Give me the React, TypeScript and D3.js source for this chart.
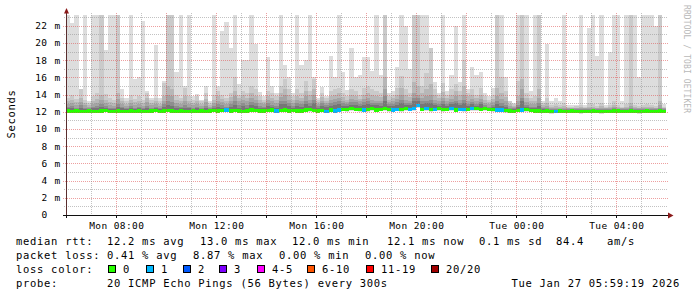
import React from 'react';
import * as d3 from 'd3';

const W = 697;
const H = 297;
const START = Date.UTC(2026, 0, 26, 5, 59, 19);
const END = Date.UTC(2026, 0, 27, 5, 59, 19);
const STEP_MS = 600000; // one column per 10 minutes

// highest ping (top of the lightest smoke), ms; values above the axis top are clipped
const smokeMax = [
  24, 22.3, 24, 14.6, 24, 13.3, 24, 24, 24, 19.2, 24, 24,
  24, 14.6, 13.6, 24, 15.8, 16.1, 22.6, 14.4, 13.6, 19.8, 13.6, 15.6,
  24, 24, 16.6, 24, 15.0, 24, 13.8, 14.1, 13.4, 15.0, 13.2, 24,
  15.0, 21.4, 22.5, 19.4, 24, 15.2, 18.0, 18.0, 24, 19.9, 14.3, 13.8,
  18.4, 15.0, 14.2, 24, 17.5, 16.1, 14.2, 24, 17.5, 18.0, 24, 16.1,
  13.6, 14.9, 13.8, 18.5, 16.1, 24, 16.6, 14.5, 19.4, 16.1, 16.3, 18.4,
  18.4, 16.8, 24, 16.3, 24, 14.2, 14.4, 17.2, 24, 22.0, 17.0, 24,
  24, 24, 24, 19.4, 15.5, 14.2, 24, 14.4, 16.3, 22.0, 15.5, 24,
  14.6, 17.2, 16.3, 16.6, 14.2, 13.8, 14.8, 24, 24, 16.1, 13.3, 13.0,
  24, 24, 24, 14.4, 24, 24, 13.3, 19.9, 13.2, 13.6, 13.3, 24,
  12.8, 12.8, 12.8, 24, 12.8, 21.8, 24, 18.5, 24, 12.8, 19.0, 24,
  24, 13.2, 24, 24, 24, 16.1, 24, 24, 24, 22.0, 24, 12.9,
];

// second highest ping
const smoke2 = [
  13.6, 14.0, 13.5, 14.6, 13.4, 13.0, 13.8, 14.2, 24, 14.1, 13.6, 13.4,
  24, 13.6, 13.2, 14.0, 13.5, 13.8, 13.4, 14.2, 13.4, 13.6, 13.2, 15.4,
  24, 24, 14.0, 13.6, 14.8, 13.8, 13.4, 13.8, 13.2, 14.2, 13.0, 14.0,
  14.4, 14.0, 13.6, 14.2, 16.0, 14.0, 14.4, 14.2, 15.0, 14.6, 13.8, 13.4,
  14.4, 14.2, 13.8, 15.0, 15.8, 14.6, 13.8, 14.6, 14.2, 15.6, 14.4, 15.8,
  13.4, 14.2, 13.6, 14.4, 14.6, 14.8, 14.2, 13.8, 14.6, 14.4, 14.0, 14.8,
  15.0, 14.6, 14.4, 14.2, 24, 13.8, 14.0, 14.8, 16.2, 14.6, 14.2, 24,
  24, 15.0, 16.5, 19.4, 14.6, 14.0, 15.4, 14.0, 14.6, 15.2, 14.4, 18.0,
  14.2, 14.6, 14.0, 14.8, 13.8, 13.4, 14.0, 24, 16.0, 14.4, 13.2, 12.9,
  15.6, 24, 14.2, 13.6, 13.8, 24, 13.0, 13.6, 12.8, 12.9, 12.8, 13.0,
  12.6, 12.6, 12.7, 12.8, 12.6, 13.0, 12.9, 12.7, 13.0, 12.6, 12.8, 13.2,
  12.8, 12.6, 12.9, 24, 12.8, 12.7, 12.8, 12.9, 12.8, 12.7, 24, 12.6,
];

const smoke3 = [
  13.2, 13.4, 13.1, 13.6, 13.0, 12.8, 13.3, 13.5, 14.0, 13.4, 13.1, 13.0,
  14.2, 13.2, 12.9, 13.4, 13.1, 13.3, 13.0, 13.6, 13.0, 13.2, 12.9, 13.8,
  15.0, 14.6, 13.4, 13.2, 13.8, 13.3, 13.0, 13.2, 12.9, 13.5, 12.8, 13.4,
  13.8, 13.5, 13.2, 13.7, 14.4, 13.6, 13.9, 13.6, 14.2, 13.8, 13.4, 13.1,
  13.8, 13.6, 13.4, 14.2, 14.6, 13.9, 13.4, 13.8, 13.6, 14.4, 13.9, 14.6,
  13.1, 13.7, 13.3, 13.8, 14.0, 14.2, 13.7, 13.4, 13.9, 13.8, 13.5, 14.0,
  14.2, 13.9, 13.8, 13.7, 16.0, 13.4, 13.6, 14.0, 14.8, 13.9, 13.7, 15.5,
  15.0, 14.2, 14.6, 15.2, 13.9, 13.6, 14.3, 13.6, 14.0, 14.4, 13.9, 15.0,
  13.8, 14.0, 13.6, 14.0, 13.4, 13.1, 13.5, 14.8, 14.2, 13.7, 12.9, 12.7,
  13.8, 15.8, 13.6, 13.2, 13.3, 14.6, 12.8, 13.0, 12.6, 12.7, 12.6, 12.7,
  12.5, 12.5, 12.5, 12.6, 12.5, 12.6, 12.6, 12.5, 12.7, 12.5, 12.6, 12.8,
  12.6, 12.5, 12.6, 13.0, 12.6, 12.5, 12.6, 12.6, 12.6, 12.5, 13.2, 12.5,
];

const smoke4 = [
  12.9, 13.0, 12.8, 13.1, 12.8, 12.6, 12.9, 13.0, 13.4, 13.0, 12.8, 12.7,
  13.5, 12.9, 12.7, 13.0, 12.8, 12.9, 12.7, 13.1, 12.8, 12.9, 12.7, 13.3,
  14.0, 13.8, 13.0, 12.9, 13.2, 12.9, 12.8, 12.9, 12.7, 13.1, 12.6, 13.0,
  13.3, 13.1, 12.9, 13.3, 13.8, 13.2, 13.4, 13.2, 13.6, 13.4, 13.0, 12.9,
  13.4, 13.2, 13.0, 13.7, 13.9, 13.4, 13.0, 13.4, 13.2, 13.8, 13.4, 13.9,
  12.9, 13.3, 13.0, 13.4, 13.5, 13.6, 13.3, 13.1, 13.5, 13.4, 13.2, 13.5,
  13.6, 13.4, 13.3, 13.3, 14.6, 13.1, 13.2, 13.5, 13.9, 13.4, 13.3, 14.2,
  14.0, 13.6, 13.8, 14.0, 13.4, 13.2, 13.6, 13.2, 13.5, 13.8, 13.4, 14.0,
  13.3, 13.5, 13.2, 13.5, 13.0, 12.9, 13.1, 13.8, 13.5, 13.2, 12.7, 12.6,
  13.2, 14.6, 13.1, 12.9, 12.9, 13.6, 12.6, 12.7, 12.5, 12.5, 12.5, 12.5,
  12.4, 12.4, 12.4, 12.5, 12.4, 12.5, 12.5, 12.4, 12.5, 12.4, 12.5, 12.6,
  12.5, 12.4, 12.5, 12.7, 12.5, 12.4, 12.5, 12.5, 12.5, 12.4, 12.8, 12.4,
];

const smoke5 = [
  12.6, 12.7, 12.5, 12.8, 12.5, 12.4, 12.6, 12.7, 12.9, 12.7, 12.5, 12.5,
  12.9, 12.6, 12.5, 12.7, 12.5, 12.6, 12.5, 12.7, 12.5, 12.6, 12.5, 12.9,
  13.3, 13.1, 12.7, 12.6, 12.8, 12.6, 12.5, 12.6, 12.5, 12.7, 12.4, 12.7,
  12.9, 12.8, 12.6, 12.9, 13.2, 12.8, 13.0, 12.8, 13.1, 13.0, 12.7, 12.6,
  13.0, 12.8, 12.7, 13.2, 13.3, 13.0, 12.7, 13.0, 12.9, 13.3, 13.0, 13.4,
  12.7, 13.0, 12.8, 13.0, 13.1, 13.2, 13.0, 12.9, 13.1, 13.1, 12.9, 13.1,
  13.2, 13.0, 13.0, 13.0, 13.8, 12.9, 12.9, 13.1, 13.4, 13.0, 13.0, 13.6,
  13.6, 13.2, 13.3, 13.4, 13.0, 12.9, 13.2, 12.9, 13.1, 13.3, 13.0, 13.4,
  12.9, 13.1, 12.9, 13.1, 12.8, 12.6, 12.8, 13.2, 13.0, 12.8, 12.5, 12.4,
  12.8, 13.6, 12.8, 12.6, 12.6, 13.0, 12.4, 12.4, 12.35, 12.35, 12.35, 12.35,
  12.3, 12.3, 12.3, 12.35, 12.3, 12.35, 12.35, 12.3, 12.35, 12.3, 12.35, 12.4,
  12.35, 12.3, 12.35, 12.5, 12.35, 12.3, 12.35, 12.35, 12.35, 12.3, 12.5, 12.3,
];

const smoke6 = [
  12.4, 12.45, 12.35, 12.5, 12.35, 12.3, 12.4, 12.45, 12.6, 12.45, 12.35, 12.35,
  12.6, 12.4, 12.35, 12.45, 12.35, 12.4, 12.35, 12.45, 12.35, 12.4, 12.35, 12.6,
  12.8, 12.7, 12.45, 12.4, 12.5, 12.4, 12.35, 12.4, 12.35, 12.45, 12.3, 12.45,
  12.6, 12.5, 12.4, 12.6, 12.8, 12.5, 12.7, 12.5, 12.8, 12.7, 12.5, 12.45,
  12.7, 12.55, 12.5, 12.85, 12.9, 12.7, 12.5, 12.7, 12.6, 12.9, 12.7, 13.0,
  12.5, 12.7, 12.6, 12.7, 12.8, 12.9, 12.7, 12.65, 12.8, 12.8, 12.65, 12.8,
  12.9, 12.75, 12.75, 12.7, 13.3, 12.7, 12.7, 12.8, 13.0, 12.75, 12.75, 13.2,
  13.3, 12.9, 13.0, 13.0, 12.8, 12.7, 12.9, 12.7, 12.85, 13.0, 12.8, 13.0,
  12.7, 12.85, 12.7, 12.85, 12.6, 12.45, 12.6, 12.9, 12.7, 12.6, 12.35, 12.3,
  12.6, 13.2, 12.6, 12.45, 12.45, 12.7, 12.3, 12.3, 12.25, 12.25, 12.25, 12.25,
  12.2, 12.2, 12.2, 12.25, 12.2, 12.25, 12.25, 12.2, 12.25, 12.2, 12.25, 12.3,
  12.25, 12.2, 12.25, 12.35, 12.25, 12.2, 12.25, 12.25, 12.25, 12.2, 12.35, 12.2,
];

// lowest ping (bottom of the smoke)
const smokeMin = [
  11.9, 11.85, 11.9, 11.85, 11.9, 11.9, 11.85, 11.9, 11.9, 11.95, 11.85, 11.85,
  11.9, 11.85, 11.85, 11.9, 11.9, 11.9, 11.85, 11.85, 11.9, 11.95, 11.85, 11.9,
  11.95, 11.9, 11.85, 11.9, 11.85, 11.85, 11.9, 11.85, 11.9, 11.85, 11.9, 11.95,
  11.9, 11.95, 11.95, 11.9, 11.95, 11.9, 11.85, 11.9, 11.95, 11.95, 11.9, 11.9,
  11.95, 11.95, 11.9, 11.95, 11.95, 11.9, 11.95, 11.9, 11.9, 11.95, 12.0, 11.95,
  11.9, 11.95, 11.85, 11.95, 11.9, 11.95, 12.05, 12.0, 12.1, 12.05, 12.0, 11.95,
  12.0, 12.1, 11.95, 12.05, 12.1, 12.0, 11.95, 12.05, 12.0, 12.1, 12.05, 12.1,
  12.4, 12.05, 12.1, 12.0, 12.05, 12.1, 12.0, 12.05, 12.1, 11.95, 12.05, 12.0,
  12.05, 12.1, 12.15, 12.05, 12.1, 12.05, 12.0, 11.95, 11.95, 11.9, 11.9, 11.85,
  11.95, 12.0, 12.0, 11.95, 11.9, 11.9, 11.85, 11.9, 11.8, 11.85, 11.9, 11.85,
  11.85, 11.9, 11.85, 11.8, 11.85, 11.85, 11.9, 11.85, 11.8, 11.85, 11.85, 11.9,
  11.9, 11.85, 11.85, 11.9, 11.85, 11.8, 11.85, 11.9, 11.85, 11.85, 11.9, 11.85,
];

const median = [
  12.1, 12.05, 12.1, 12.0, 12.05, 12.1, 12.0, 12.05, 12.1, 12.15, 12.05, 12.0,
  12.1, 12.05, 12.0, 12.1, 12.05, 12.1, 12.05, 12.0, 12.1, 12.15, 12.05, 12.1,
  12.15, 12.1, 12.05, 12.1, 12.0, 12.05, 12.1, 12.05, 12.1, 12.05, 12.1, 12.15,
  12.1, 12.15, 12.2, 12.1, 12.15, 12.1, 12.05, 12.1, 12.2, 12.15, 12.1, 12.1,
  12.15, 12.2, 12.1, 12.15, 12.2, 12.1, 12.15, 12.1, 12.1, 12.2, 12.25, 12.15,
  12.1, 12.15, 12.05, 12.2, 12.1, 12.2, 12.3, 12.25, 12.35, 12.3, 12.25, 12.2,
  12.25, 12.35, 12.2, 12.3, 12.4, 12.25, 12.2, 12.3, 12.25, 12.35, 12.3, 12.4,
  12.75, 12.3, 12.35, 12.25, 12.3, 12.35, 12.25, 12.3, 12.35, 12.2, 12.3, 12.25,
  12.3, 12.35, 12.4, 12.3, 12.35, 12.3, 12.25, 12.2, 12.2, 12.15, 12.1, 12.05,
  12.15, 12.2, 12.25, 12.15, 12.1, 12.1, 12.05, 12.1, 12.0, 12.05, 12.1, 12.05,
  12.05, 12.1, 12.05, 12.0, 12.05, 12.05, 12.1, 12.05, 12.0, 12.05, 12.05, 12.1,
  12.1, 12.05, 12.05, 12.1, 12.05, 12.0, 12.05, 12.1, 12.05, 12.05, 12.1, 12.05,
];

// index into lossColors for each column
const lossIndex = [
  0, 0, 0, 0, 0, 0, 0, 0, 0, 0, 0, 0,
  0, 0, 0, 0, 0, 0, 0, 0, 0, 0, 0, 0,
  0, 0, 0, 0, 0, 0, 0, 0, 0, 0, 0, 0,
  0, 0, 1, 0, 0, 0, 0, 0, 0, 0, 0, 0,
  0, 0, 1, 0, 0, 0, 0, 0, 0, 0, 0, 0,
  0, 0, 1, 0, 1, 1, 0, 0, 0, 0, 0, 1,
  0, 0, 0, 0, 0, 0, 1, 1, 0, 0, 1, 1,
  1, 0, 1, 0, 1, 0, 0, 0, 1, 0, 1, 1,
  0, 1, 0, 0, 0, 0, 0, 1, 1, 0, 0, 0,
  0, 1, 0, 0, 0, 0, 0, 0, 0, 1, 0, 0,
  0, 0, 0, 0, 0, 0, 0, 0, 0, 0, 0, 0,
  0, 0, 0, 0, 0, 0, 0, 0, 0, 0, 0, 0,
];

const lossLabels = ['0', '1', '2', '3', '4-5', '6-10', '11-19', '20/20'];
const lossColors = ['#26ff00', '#00b8ff', '#0059ff', '#7e00ff', '#ff00ff', '#ff5500', '#ff0000', '#a00000'];
const smokeGreys = ['#dddddd', '#cacaca', '#b7b7b7', '#a4a4a4', '#8e8e8e', '#767676'];

const yMajor = [0, 2, 4, 6, 8, 10, 12, 14, 16, 18, 20, 22];
const yMinor = [1, 3, 5, 7, 9, 11, 13, 15, 17, 19, 21, 23];

const medianStats = ['median rtt:', '12.2 ms avg', '13.0 ms max', '12.0 ms min', '12.1 ms now', '0.1 ms sd', '84.4', 'am/s'];
const lossStats = ['packet loss:', '0.41 % avg', '8.87 % max', '0.00 % min', '0.00 % now'];
const probeText = ['probe:', '20 ICMP Echo Pings (56 Bytes) every 300s'];
const stampText = 'Tue Jan 27 05:59:19 2026';

const PL = 66, PR = 666, PT = 15, PB = 215;
const x = d3.scaleUtc().domain([new Date(START), new Date(END)]).range([PL, PR]);
const y = d3.scaleLinear().domain([0, 200 / 8.6]).range([PB, PT]);

const mono = 'DejaVu Sans Mono, monospace';

export default function App() {
  const n = smokeMax.length;
  const cols = d3.range(n).map((i) => {
    const x0 = x(new Date(START + i * STEP_MS));
    const x1 = x(new Date(START + (i + 1) * STEP_MS));
    return { x0, w: x1 - x0 };
  });
  const layers = [
    { top: smokeMax, bot: smokeMin },
    { top: smoke2, bot: median },
    { top: smoke3, bot: median },
    { top: smoke4, bot: median },
    { top: smoke5, bot: median },
    { top: smoke6, bot: median },
  ];
  const hours = d3.utcHour.range(new Date(START), new Date(END));
  const fmt = d3.utcFormat('%a %H:%M');
  const legendX1 = [16, 107, 200, 292, 387, 479, 556, 607];
  const legendX2 = [16, 107, 193, 279, 365];
  const swatchX = [108, 146, 183, 219, 257, 307, 366, 431];
  const rowY = [244.5, 258.5, 272.5, 286.5];
  const legendFont = { fontFamily: mono, fontSize: 10.5, letterSpacing: 0.7 } as const;
  const axisFont = { fontFamily: mono, fontSize: 9.5, letterSpacing: 0.4 } as const;

  return (
    <svg width={W} height={H} style={{ position: 'absolute', left: 0, top: 0, background: '#fff' }}>
      <defs>
        <clipPath id="plot">
          <rect x={PL} y={PT} width={PR - PL} height={PB - PT} />
        </clipPath>
      </defs>
      <rect width={W} height={H} fill="#fff" />
      <g clipPath="url(#plot)" shapeRendering="crispEdges">
        {layers.map((L, li) => (
          <g key={li} fill={smokeGreys[li]}>
            {cols.map((c, i) => {
              const yt = y(L.top[i]);
              const yb = y(L.bot[i]);
              return <rect key={i} x={c.x0} width={c.w + 0.02} y={yt} height={Math.max(0, yb - yt)} />;
            })}
          </g>
        ))}
        {cols.map((c, i) => (
          <rect key={i} x={c.x0} width={c.w + 0.02} y={y(median[i]) - 1.6} height={3.2} fill={lossColors[lossIndex[i]]} />
        ))}
      </g>
      {/* grid */}
      <g shapeRendering="crispEdges" strokeWidth={1}>
        {yMinor.map((v) => (
          <line key={'yn' + v} x1={64} x2={668} y1={Math.round(y(v)) + 0.5} y2={Math.round(y(v)) + 0.5}
            stroke="rgba(143,143,143,0.55)" strokeDasharray="1,1" />
        ))}
        {yMajor.filter((v) => v > 0).map((v) => (
          <line key={'yj' + v} x1={63} x2={668} y1={Math.round(y(v)) + 0.5} y2={Math.round(y(v)) + 0.5}
            stroke="rgba(222,80,80,0.55)" strokeDasharray="1,1" />
        ))}
        {hours.map((h) => {
          const major = h.getUTCHours() % 2 === 0;
          const xx = Math.round(x(h)) + 0.5;
          return (
            <line key={'x' + h.getTime()} x1={xx} x2={xx} y1={major ? 218 : 216} y2={13}
              stroke={major ? 'rgba(222,80,80,0.55)' : 'rgba(143,143,143,0.55)'} strokeDasharray="1,1" />
          );
        })}
      </g>
      {/* axes */}
      <g shapeRendering="crispEdges">
        <line x1={63} x2={668} y1={215.5} y2={215.5} stroke="#101010" />
        <line x1={66.5} x2={66.5} y1={218} y2={12} stroke="#5a2e2e" />
        {hours.filter((h) => h.getUTCHours() % 2 === 0).map((h) => {
          const xx = Math.round(x(h)) + 0.5;
          return <line key={'t' + h.getTime()} x1={xx} x2={xx} y1={215} y2={218} stroke="#101010" />;
        })}
      </g>
      <path d="M64,13.5 L69,13.5 L66.5,8 Z" fill="#8b1a1a" />
      <path d="M668,212.5 L668,218.5 L673.5,215.5 Z" fill="#8b1a1a" />
      {/* y labels */}
      {yMajor.map((v) => (
        <g key={'yl' + v}>
          <text x={47.5} y={y(v) + 3.4} textAnchor="end" {...axisFont} fill="#000">{String(v)}</text>
          {v > 0 && <text x={54.5} y={y(v) + 3.4} {...axisFont} fill="#000">m</text>}
        </g>
      ))}
      {/* x labels */}
      {hours.filter((h) => h.getUTCHours() % 4 === 0).map((h) => (
        <text key={'xl' + h.getTime()} x={x(h) + 0.5} y={228.5} textAnchor="middle" {...axisFont} fill="#000">{fmt(h)}</text>
      ))}
      <text transform="translate(14.5,114) rotate(-90)" textAnchor="middle" {...legendFont} fill="#000">Seconds</text>
      <text transform="translate(684,5) rotate(90)" fontFamily={mono} fontSize={8} letterSpacing={0.1} fill="#b8b8b8">RRDTOOL / TOBI OETIKER</text>
      {/* legend */}
      {medianStats.map((t, i) => (
        <text key={'m' + i} x={legendX1[i]} y={rowY[0]} {...legendFont} fill="#000">{t}</text>
      ))}
      {lossStats.map((t, i) => (
        <text key={'l' + i} x={legendX2[i]} y={rowY[1]} {...legendFont} fill="#000">{t}</text>
      ))}
      <text x={16} y={rowY[2]} {...legendFont} fill="#000">loss color:</text>
      {lossLabels.map((t, i) => (
        <g key={'s' + i}>
          <rect x={swatchX[i] + 0.5} y={265.5} width={7} height={7} fill={lossColors[i]} stroke="#000" strokeWidth={1} shapeRendering="crispEdges" />
          <text x={swatchX[i] + 15} y={rowY[2]} {...legendFont} fill="#000">{t}</text>
        </g>
      ))}
      <text x={16} y={rowY[3]} {...legendFont} fill="#000">{probeText[0]}</text>
      <text x={107} y={rowY[3]} {...legendFont} fill="#000">{probeText[1]}</text>
      <text x={680} y={rowY[3]} textAnchor="end" {...legendFont} fill="#000">{stampText}</text>
    </svg>
  );
}
